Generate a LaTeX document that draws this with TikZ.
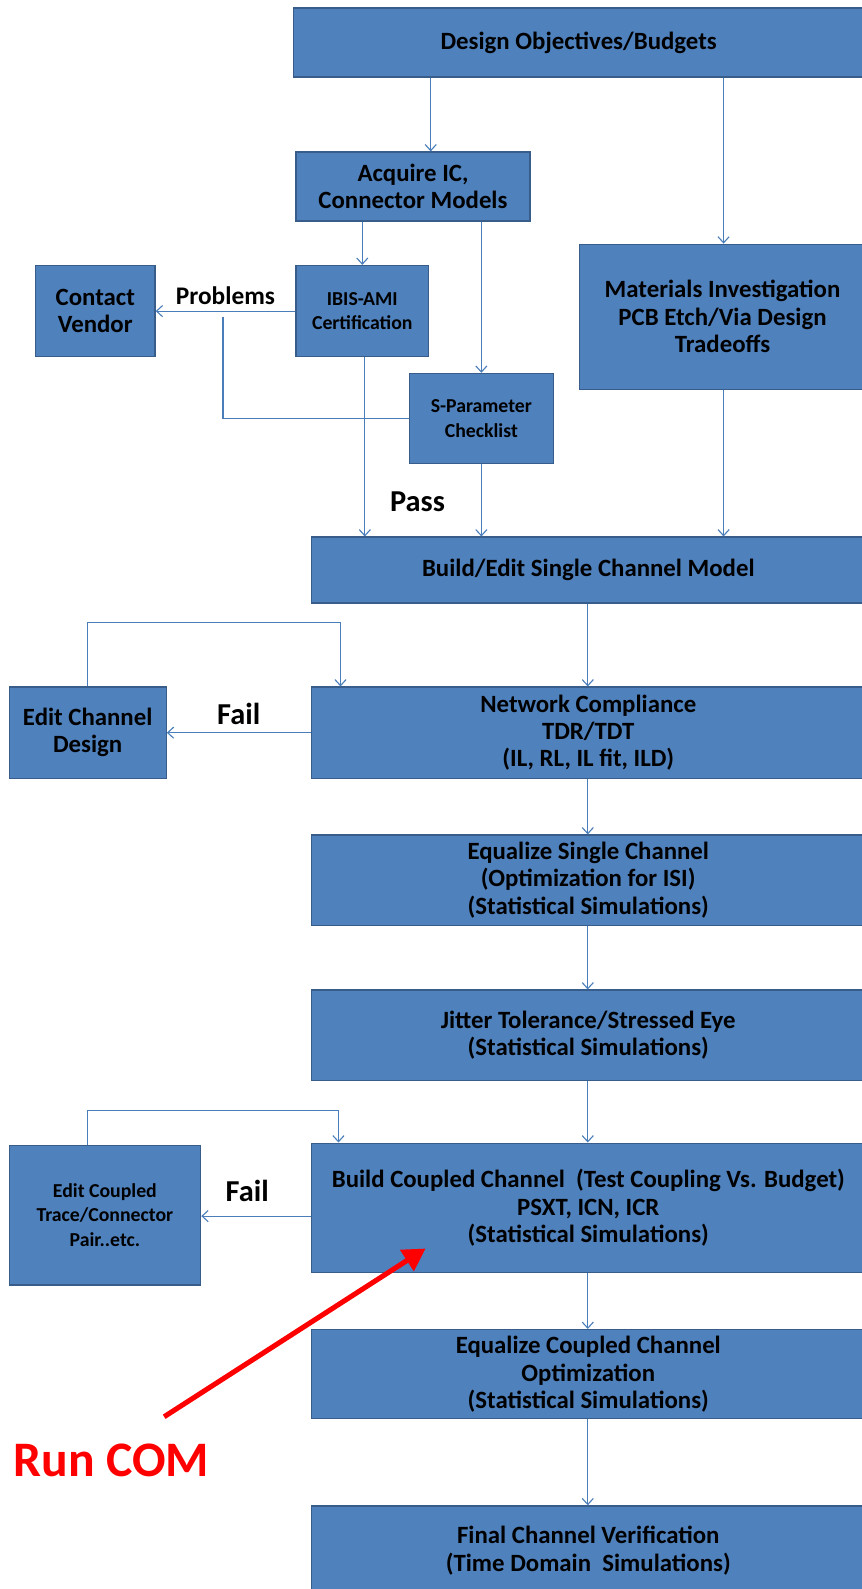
\documentclass[tikz,border=0pt]{standalone}
\usepackage{fontspec}
\setmainfont{Carlito}
\usetikzlibrary{arrows.meta}
\definecolor{boxfill}{HTML}{4F81BD}
\definecolor{boxline}{HTML}{385D8A}
\definecolor{flowline}{HTML}{4A7EBB}
\definecolor{comred}{HTML}{FF0000}
\tikzset{
  stage/.style={draw=boxline, fill=boxfill, line width=1.2pt, align=center,
    inner sep=0pt, font=\fontsize{24.5}{27}\selectfont\bfseries},
  smalltext/.style={font=\fontsize{19.5}{24}\selectfont\bfseries},
  flow/.style={draw=flowline, line width=1.1pt, -{Straight Barb[length=6pt,width=11pt]}},
  tag/.style={font=\fontsize{30}{30}\selectfont\bfseries},
}
\begin{document}
\begin{tikzpicture}[x=1pt,y=-1pt]
\useasboundingbox (0,0) rectangle (850,1568);
% top row and the model inputs
\node[stage, minimum width=562pt, minimum height=68pt] (design) at (571,42) {Design Objectives/Budgets};
\node[stage, minimum width=231pt, minimum height=68pt] (acquire) at (407.5,184) {Acquire IC,\\Connector Models};
\node[stage, minimum width=282pt, minimum height=143pt] (mater) at (713,312.5) {Materials Investigation\\PCB Etch/Via Design\\Tradeoffs};
\node[stage, minimum width=118pt, minimum height=90pt] (vendor) at (94,307) {Contact\\Vendor};
\node[stage, smalltext, minimum width=131pt, minimum height=90pt] (ibis) at (357.5,307) {IBIS-AMI\\Certification};
\node[stage, smalltext, minimum width=142pt, minimum height=89pt] (spar) at (475,413) {S-Parameter\\Checklist};
% single channel stages
\node[stage, minimum width=547pt, minimum height=65pt] (build) at (580.5,562.5) {Build/Edit Single Channel Model};
\node[stage, minimum width=547pt, minimum height=90pt] (netw) at (580.5,723) {Network Compliance\\TDR/TDT\\(IL, RL, IL fit, ILD)};
\node[stage, minimum width=155pt, minimum height=90pt] (editch) at (86.5,723) {Edit Channel\\Design};
\node[stage, minimum width=547pt, minimum height=89pt] (eqsingle) at (580.5,868.5) {Equalize Single Channel\\(Optimization for ISI)\\(Statistical Simulations)};
\node[stage, minimum width=547pt, minimum height=89pt] (jitter) at (580.5,1021.5) {Jitter Tolerance/Stressed Eye\\(Statistical Simulations)};
% coupled channel stages
\node[stage, minimum width=547pt, minimum height=128pt] (coupled) at (580.5,1192) {Build Coupled Channel\ \ (Test Coupling Vs. Budget)\\PSXT, ICN, ICR\\(Statistical Simulations)};
\node[stage, smalltext, minimum width=189pt, minimum height=138pt] (editcp) at (103.5,1199) {Edit Coupled\\Trace/Connector\\Pair..etc.};
\node[stage, minimum width=547pt, minimum height=88pt] (eqcoupled) at (580.5,1356) {Equalize Coupled Channel\\Optimization\\(Statistical Simulations)};
\node[stage, minimum width=547pt, minimum height=88pt] (final) at (580.5,1530) {Final Channel Verification\\(Time Domain\ \ Simulations)};

% connectors
\draw[flow] (425,0 |- design.south) -- (425,0 |- acquire.north);
\draw[flow] (714,0 |- design.south) -- (714,0 |- mater.north);
\draw[flow] (ibis.north |- acquire.south) -- (ibis.north);
\draw[flow] (spar.north |- acquire.south) -- (spar.north);
\draw[flow] (ibis.west) -- node[above=2pt, font=\fontsize{25}{25}\selectfont\bfseries] (problems) {Problems} (vendor.east);
\coordinate (backtop) at (220,313);
\draw[draw=flowline, line width=1.1pt] (spar.west) -| (backtop);
\draw[flow] (360,0 |- ibis.south) -- (360,0 |- build.north);
\draw[flow] (spar.south) -- (spar.south |- build.north);
\draw[flow] (714,0 |- mater.south) -- (714,0 |- build.north);
\node[tag] (pass) at (412,495) {Pass};
\draw[flow] (580,0 |- build.south) -- (580,0 |- netw.north);
\draw[flow] (netw.west) -- node[above=4pt, tag] (fail1) {Fail} (editch.east);
\draw[flow] (editch.north) |- (336,614) -- (336,0 |- netw.north);
\draw[flow] (580,0 |- netw.south) -- (580,0 |- eqsingle.north);
\draw[flow] (580,0 |- eqsingle.south) -- (580,0 |- jitter.north);
\draw[flow] (580,0 |- jitter.south) -- (580,0 |- coupled.north);
\draw[flow] (coupled.west |- 0,1200) -- (editcp.east |- 0,1200);
\node[tag] (fail2) at (244,1175) {Fail};
\draw[flow] (86,0 |- editcp.north) |- (334,1096) -- (334,0 |- coupled.north);
\draw[flow] (580,0 |- coupled.south) -- (580,0 |- eqcoupled.north);
\draw[flow] (580,0 |- eqcoupled.south) -- (580,0 |- final.north);

% the red call-out
\node[text=comred, font=\fontsize{49}{49}\selectfont\bfseries] (runcom) at (110,1441) {Run COM};
\coordinate (comtail) at (162,1398);
\coordinate (comhead) at (420,1232);
\draw[comred, line width=5pt, -{Triangle[length=22pt,width=24pt]}] (comtail) -- (comhead);
\end{tikzpicture}
\end{document}
